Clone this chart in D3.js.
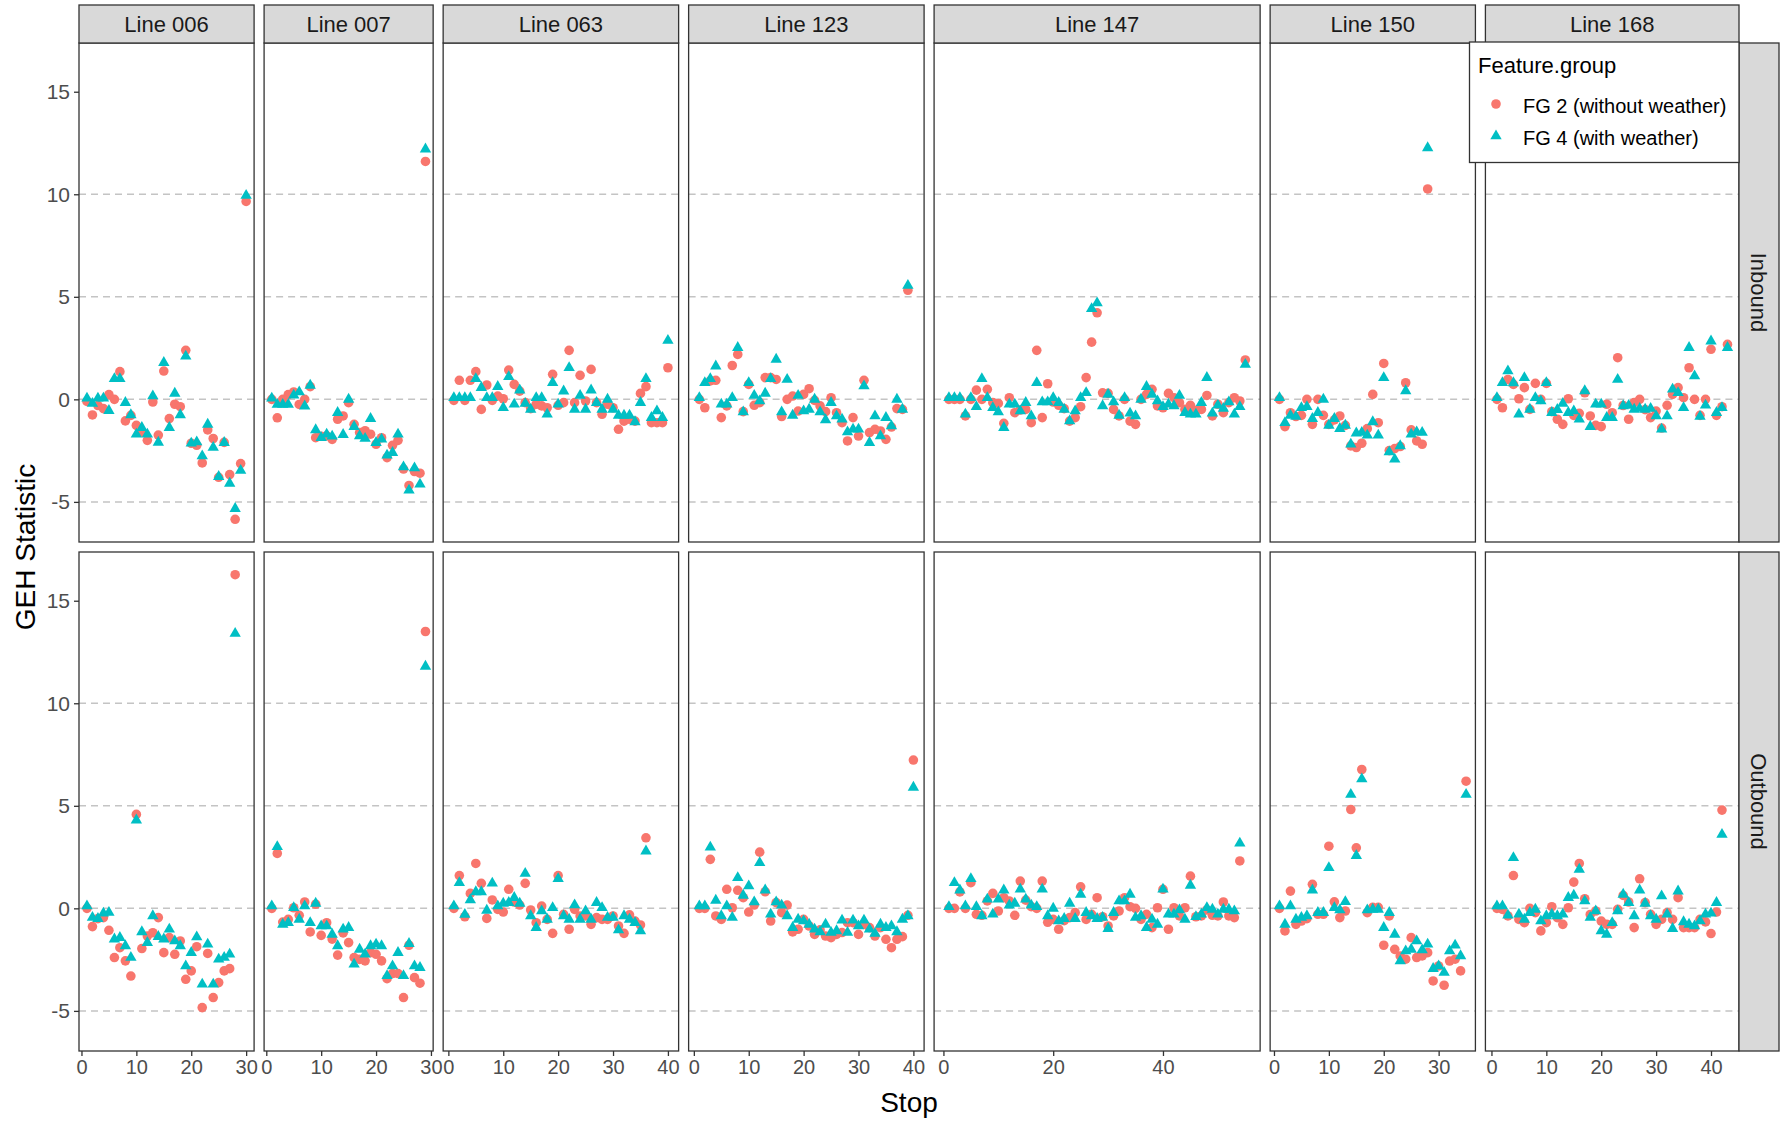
<!DOCTYPE html>
<html>
<head>
<meta charset="utf-8">
<script src="https://cdn.jsdelivr.net/npm/d3@7/dist/d3.min.js"></script>
<style>
  body { margin: 0; background: white; }
  text { font-family: "Liberation Sans", Arial, sans-serif; }
</style>
</head>
<body>
<svg id="chart" width="1782" height="1123"></svg>
<script>
// facet labels
const lineNames = ["Line 006", "Line 007", "Line 063", "Line 123", "Line 147", "Line 150", "Line 168"];
const directions = ["Inbound", "Outbound"];
const groupNames = ["FG 2 (without weather)", "FG 4 (with weather)"];
const yTicks = [-5, 0, 5, 10, 15];
const refLines = [-5, 0, 5, 10];

// GEH per stop (stop = index + 1), Inbound
const l006_in_fg2 = [-0.1, -0.76, -0.3, -0.45, 0.23, 0, 1.35, -1.05, -0.78, -1.27, -1.6, -2.0, -0.13, -1.74, 1.38, -0.94, -0.24, -0.36, 2.39, -2.14, -2.24, -3.1, -1.49, -1.91, -3.8, -2.1, -3.67, -5.85, -3.13, 9.65];
const l006_in_fg4 = [0.05, -0.2, 0.05, 0.05, -0.55, 1.0, 1.0, -0.16, -0.76, -1.7, -1.38, -1.7, 0.16, -2.1, 1.79, -1.38, 0.29, -0.76, 2.1, -2.14, -2.08, -2.76, -1.22, -2.35, -3.77, -2.11, -4.1, -5.33, -3.47, 9.94];
const l007_in_fg2 = [0, -0.9, 0, 0.23, 0.36, -0.25, 0, 0.62, -1.87, -1.8, -1.78, -1.95, -0.97, -0.81, -0.16, -1.22, -1.62, -1.53, -1.7, -2.19, -1.87, -2.84, -2.24, -2.0, -3.4, -4.2, -3.52, -3.6, 11.6];
const l007_in_fg4 = [0.05, -0.25, -0.25, -0.25, 0.2, 0.36, -0.33, 0.68, -1.49, -1.87, -1.7, -1.8, -0.65, -1.72, 0, -1.33, -1.78, -1.91, -0.94, -2.11, -1.95, -2.73, -2.6, -1.7, -3.3, -4.43, -3.35, -4.14, 12.2];
const l063_in_fg2 = [-0.05, 0.93, -0.05, 0.93, 1.35, -0.49, 0.7, -0.05, 0.16, 0.03, 1.43, 0.73, 0.4, -0.16, -0.45, -0.24, -0.32, -0.41, 1.22, -0.29, -0.16, 2.39, -0.16, 1.17, -0.08, 1.46, -0.16, -0.73, -0.24, -0.41, -1.46, -1.06, -0.97, -1.06, 0.29, 0.62, -1.14, -1.14, -1.14, 1.54];
const l063_in_fg4 = [0.08, 0.08, 0.08, 0.08, 1.0, 0.57, 0.08, 0.08, 0.62, -0.41, 1.1, -0.24, 0.45, -0.2, -0.49, 0.08, 0.08, -0.73, 0.81, -0.24, 0.4, 1.54, -0.49, 0.19, -0.49, 0.45, -0.16, -0.49, 0, -0.49, -0.78, -0.78, -0.78, -1.1, -0.16, 1.0, -0.89, -0.57, -0.89, 2.87];
const l123_in_fg2 = [0, -0.41, 0.9, 0.93, -0.89, -0.32, 1.65, 2.19, -0.6, 0.73, -0.29, -0.16, 1.06, 1.06, 0.97, -0.84, 0, 0.16, -0.57, 0.24, 0.52, -0.05, -0.32, -0.6, 0.08, -0.65, -1.14, -2.03, -0.89, -1.79, 0.93, -1.62, -1.46, -1.54, -1.95, -1.35, -0.45, -0.49, 5.32];
const l123_in_fg4 = [0.08, 0.81, 1.0, 1.62, -0.24, -0.24, 0.08, 2.52, -0.62, 0.81, 0.19, -0.08, 0.29, 1.0, 1.95, -0.62, 0.97, -0.78, 0.19, -0.57, -0.49, 0, -0.62, -1.0, -0.16, -0.81, -0.97, -1.59, -1.46, -1.46, 0.65, -2.11, -0.81, -1.79, -0.89, -1.3, 0, -0.49, 5.55];
const l147_in_fg2 = [0, 0, 0, -0.81, 0, 0.45, 0, 0.49, -0.16, -0.2, -1.17, 0.08, -0.65, -0.52, -0.49, -1.14, 2.39, -0.89, 0.76, -0.13, -0.29, -0.45, -1.06, -0.89, -0.36, 1.06, 2.79, 4.22, 0.32, 0.29, -0.49, -0.81, 0, -1.06, -1.22, 0, 0.24, 0.49, -0.32, -0.41, 0.29, 0.08, -0.16, -0.49, -0.29, -0.55, -0.49, 0.19, -0.81, -0.24, -0.65, -0.16, 0.08, -0.08, 1.92];
const l147_in_fg4 = [0.08, 0.08, 0.08, -0.73, 0.08, -0.36, 1.0, 0.08, -0.41, -0.62, -1.38, -0.24, -0.24, -0.57, -0.16, -0.81, 0.81, -0.13, -0.13, 0.08, -0.16, -0.49, -1.06, -0.57, 0.08, 0.32, 4.42, 4.7, -0.32, 0.24, -0.13, -0.78, 0.08, -0.68, -0.81, 0, 0.62, 0.24, -0.08, -0.36, -0.24, -0.32, 0.19, -0.65, -0.73, -0.73, -0.16, 1.06, -0.68, -0.29, -0.45, -0.13, -0.73, -0.36, 1.7];
const l150_in_fg2 = [0, -1.33, -0.65, -0.84, -0.78, 0, -1.22, 0, -0.78, -1.22, -1.0, -0.81, -1.27, -2.27, -2.35, -2.14, -1.43, 0.24, -1.14, 1.75, -2.5, -2.4, -2.3, 0.81, -1.49, -2.03, -2.19, 10.26];
const l150_in_fg4 = [0.08, -1.14, -0.78, -0.84, -0.41, -0.36, -0.94, -0.65, 0, -1.27, -0.94, -1.43, -1.27, -2.19, -1.65, -1.62, -1.75, -1.1, -1.75, 1.05, -2.57, -2.92, -2.27, 0.41, -1.7, -1.59, -1.62, 12.26];
const l168_in_fg2 = [0, -0.41, 0.97, 0.73, 0.03, 0.57, -0.49, 0.78, 0, 0.78, -0.6, -0.97, -1.22, 0.03, -0.78, -0.68, 0.32, -0.81, -1.27, -1.33, -0.24, -0.65, 2.03, -0.3, -0.97, -0.16, 0, -0.5, -0.89, -0.57, -1.4, -0.29, 0.24, 0.57, 0.08, 1.54, 0, -0.78, 0, 2.44, -0.78, -0.36, 2.68];
const l168_in_fg4 = [0.08, 0.81, 1.38, 0.8, -0.73, 1.05, -0.49, 0.08, -0.08, 0.81, -0.65, -0.5, -0.2, -0.65, -0.57, -0.97, 0.41, -1.33, -0.24, -0.24, -0.89, -0.89, 0.97, -0.32, -0.3, -0.49, -0.45, -0.49, -0.45, -0.81, -1.46, -0.81, 0.49, 0.32, -0.41, 2.52, 1.14, -0.84, -0.29, 2.84, -0.65, -0.41, 2.52];

// Outbound
const l006_out_fg2 = [0, -0.89, -0.5, -0.45, -1.07, -2.4, -1.92, -2.56, -3.3, 4.58, -1.96, -1.35, -1.19, -0.45, -2.16, -1.43, -2.24, -1.59, -3.46, -3.05, -1.87, -4.84, -2.2, -4.35, -3.62, -3.05, -2.94, 16.27];
const l006_out_fg4 = [0.11, -0.45, -0.5, -0.24, -0.2, -1.5, -1.43, -1.83, -2.4, 4.3, -1.15, -1.67, -0.37, -1.38, -1.5, -1.02, -1.59, -1.83, -2.81, -2.16, -1.4, -3.7, -1.75, -3.7, -2.48, -2.4, -2.24, 13.4];
const l007_out_fg2 = [0, 2.68, -0.67, -0.54, 0.03, -0.34, 0.31, -1.15, 0.2, -1.32, -0.7, -1.5, -2.28, -1.2, -1.67, -2.4, -2.49, -2.56, -2.16, -2.24, -2.56, -3.43, -3.18, -3.18, -4.35, -1.8, -3.38, -3.65, 13.5];
const l007_out_fg4 = [0.11, 3.0, -0.78, -0.7, 0.03, -0.54, 0.11, -0.7, 0.24, -0.86, -0.86, -1.27, -1.83, -1.02, -0.94, -2.73, -2.0, -2.24, -1.83, -1.75, -1.83, -3.29, -2.81, -2.16, -3.29, -1.72, -2.81, -2.89, 11.8];
const l063_out_fg2 = [0, 1.6, -0.41, 0.73, 2.19, 1.22, -0.49, 0.41, -0.05, -0.18, 0.93, 0.31, 0.16, 1.22, -0.08, -0.7, 0.11, -0.54, -1.22, 1.6, -0.29, -1.02, -0.05, -0.37, -0.37, -0.78, -0.45, -0.54, -0.54, -0.37, -0.86, -1.22, -0.32, -0.62, -0.81, 3.44];
const l063_out_fg4 = [0.11, 1.25, -0.3, 0.41, 0.8, 0.8, -0.1, 1.22, 0.11, 0.24, 0.28, 0.52, 0.24, 1.7, -0.37, -0.94, -0.13, -0.54, 0.03, 1.44, -0.37, -0.54, 0.16, -0.54, -0.13, -0.54, 0.28, 0.03, -0.45, -0.45, -1.06, -0.37, -0.54, -0.7, -1.1, 2.79];
const l123_out_fg2 = [0, 0, 2.39, -0.37, -0.54, 0.93, 0.03, 0.88, 0.52, -0.18, 0.16, 2.74, 0.81, -0.62, 0.28, -0.21, 0.16, -1.15, -1.02, -0.54, -0.86, -1.27, -1.05, -1.35, -1.43, -1.27, -1.18, -0.7, -0.7, -1.27, -0.78, -0.94, -1.35, -0.94, -1.51, -1.92, -1.51, -1.38, -0.34, 7.23];
const l123_out_fg4 = [0.11, 0.11, 2.98, 0.39, -0.37, 0.11, -0.45, 1.49, 0.63, 1.09, 0.31, 2.22, 0.89, -0.29, 0.31, 0.15, -0.37, -0.94, -0.54, -0.62, -0.78, -1.02, -1.15, -0.78, -1.18, -1.1, -0.58, -1.18, -0.58, -0.86, -0.58, -1.02, -1.23, -0.78, -0.94, -0.86, -1.15, -0.54, -0.37, 5.9];
const l147_out_fg2 = [0, 0, 0.8, 0, 1.25, -0.29, -0.34, 0.36, 0.73, -0.13, 0.52, 0.36, -0.34, 1.33, 0.4, 0.08, 0, 1.33, -0.68, -0.54, -1.02, -0.6, -0.45, -0.21, 1.05, -0.54, -0.29, 0.52, -0.41, -0.86, -0.37, -0.13, 0.52, 0.08, 0, -0.54, -0.29, -0.94, 0.03, 0.93, -1.02, 0.03, -0.37, 0.03, 1.57, -0.41, -0.37, -0.08, -0.34, -0.37, 0.31, -0.37, -0.45, 2.31];
const l147_out_fg4 = [0.08, 1.25, 0.89, 0.11, 1.44, 0.08, -0.37, 0.44, -0.29, 0.44, 0.89, 0.15, 0.24, 0.93, 0.44, 0.15, 0.08, 0.93, -0.37, 0, -0.62, -0.5, 0.24, -0.5, 0.68, -0.21, -0.37, -0.5, -0.45, -0.99, -0.21, 0.36, 0.36, 0.68, -0.45, -0.37, -0.94, -0.54, -0.78, 0.93, -0.29, -0.29, -0.08, -0.54, 1.12, -0.41, -0.29, 0.03, -0.05, -0.29, -0.05, -0.05, -0.13, 3.17];
const l150_out_fg2 = [0, -1.1, 0.84, -0.78, -0.62, -0.5, 1.17, -0.29, -0.29, 3.03, 0.32, -0.45, -0.13, 4.82, 2.95, 6.77, -0.21, 0.05, 0.05, -1.8, -0.37, -2.0, -2.32, -2.48, -1.43, -2.4, -2.32, -2.16, -3.54, -2.81, -3.75, -2.57, -2.48, -3.05, 6.2];
const l150_out_fg4 = [0.11, -0.78, 0.11, -0.54, -0.45, -0.37, 0.89, -0.21, -0.21, 1.98, 0.03, -0.08, 0.32, 5.55, 2.57, 6.31, -0.08, -0.05, -0.05, -0.94, -0.21, -1.27, -2.57, -2.08, -2.0, -1.59, -2.03, -1.75, -2.94, -2.81, -3.13, -2.08, -1.8, -2.32, 5.55];
const l168_out_fg2 = [0, -0.05, -0.37, 1.6, -0.54, -0.7, 0, -0.21, -1.1, -0.7, 0.08, -0.45, -0.78, 0.03, 1.28, 2.19, 0.47, -0.3, -0.13, -0.62, -0.78, -0.78, -0.05, 0.63, 0.31, -0.94, 1.44, 0.28, -0.29, -0.78, -0.54, -0.21, -0.54, 0.52, -0.94, -0.94, -0.94, -0.54, -0.66, -1.23, -0.18, 4.79];
const l168_out_fg4 = [0.11, 0.11, -0.34, 2.47, -0.29, -0.54, -0.21, -0.05, -0.62, -0.37, -0.29, -0.37, -0.29, 0.52, 0.63, 1.9, 0.36, -0.45, -0.13, -1.1, -1.27, -0.7, -0.13, 0.68, 0.28, -0.37, 0.89, 0.24, -0.37, -0.54, 0.6, -0.29, -0.99, 0.84, -0.66, -0.78, -0.86, -0.62, -0.29, -0.24, 0.28, 3.6];

const seriesByLine = {
  "Line 006": { Inbound: [l006_in_fg2, l006_in_fg4], Outbound: [l006_out_fg2, l006_out_fg4] },
  "Line 007": { Inbound: [l007_in_fg2, l007_in_fg4], Outbound: [l007_out_fg2, l007_out_fg4] },
  "Line 063": { Inbound: [l063_in_fg2, l063_in_fg4], Outbound: [l063_out_fg2, l063_out_fg4] },
  "Line 123": { Inbound: [l123_in_fg2, l123_in_fg4], Outbound: [l123_out_fg2, l123_out_fg4] },
  "Line 147": { Inbound: [l147_in_fg2, l147_in_fg4], Outbound: [l147_out_fg2, l147_out_fg4] },
  "Line 150": { Inbound: [l150_in_fg2, l150_in_fg4], Outbound: [l150_out_fg2, l150_out_fg4] },
  "Line 168": { Inbound: [l168_in_fg2, l168_in_fg4], Outbound: [l168_out_fg2, l168_out_fg4] },
};

const colors = ["#F8766D", "#00BFC4"];

// flatten into rows
let rows = [];
lineNames.forEach((ln) => {
  directions.forEach((dir) => {
    seriesByLine[ln][dir].forEach((vals, gi) => {
      vals.forEach((v, i) => {
        rows.push({ line: ln, dir: dir, group: gi, stop: i + 1, geh: v });
      });
    });
  });
});

const svg = d3.select("#chart");
const panelLeft = 79;
const panelRight = 1739;
const gap = 10;
const rowTop = [43, 552];
const rowH = 499;
const stripH = 38;
const stripW = 40;
const plainFmt = (d) => String(d); // plain hyphen minus like R

// y scale shared (ggplot 5% expansion)
const yExt = d3.extent(rows, (d) => d.geh);
const yPad = (yExt[1] - yExt[0]) * 0.05;
const yDomain = [yExt[0] - yPad, yExt[1] + yPad];

// free x per column, widths proportional to range
var cols = lineNames.map((ln) => {
  var ext = d3.extent(rows.filter((d) => d.line == ln), (d) => d.stop);
  var pad = (ext[1] - ext[0]) * 0.05;
  return { line: ln, domain: [ext[0] - pad, ext[1] + pad] };
});
const totalUnits = d3.sum(cols, (c) => c.domain[1] - c.domain[0]);
const pxPerUnit = (panelRight - panelLeft - gap * (cols.length - 1)) / totalUnits;
var cx = panelLeft;
cols.forEach((c) => {
  c.x0 = cx;
  c.w = (c.domain[1] - c.domain[0]) * pxPerUnit;
  c.scale = d3.scaleLinear().domain(c.domain).range([c.x0, c.x0 + c.w]);
  cx += c.w + gap;
});

const triangle = d3.symbol().type(d3.symbolTriangle).size(56);
const dotR = 4.8;

directions.forEach((dir, ri) => {
  var y = d3.scaleLinear().domain(yDomain).range([rowTop[ri] + rowH, rowTop[ri]]);

  cols.forEach((c, ci) => {
    var g = svg.append("g");
    g.append("rect")
      .attr("x", c.x0).attr("y", rowTop[ri])
      .attr("width", c.w).attr("height", rowH)
      .attr("fill", "white");

    g.selectAll(".ref")
      .data(refLines)
      .enter()
      .append("line")
      .attr("x1", c.x0).attr("x2", c.x0 + c.w)
      .attr("y1", (d) => y(d)).attr("y2", (d) => y(d))
      .attr("stroke", "#c4c4c4")
      .attr("stroke-width", 1.5)
      .attr("stroke-dasharray", "7,5");

    var pts = rows.filter((d) => d.line == c.line && d.dir == dir);
    g.selectAll(".fg2")
      .data(pts.filter((d) => d.group == 0))
      .enter()
      .append("circle")
      .attr("cx", (d) => c.scale(d.stop))
      .attr("cy", (d) => y(d.geh))
      .attr("r", dotR)
      .attr("fill", colors[0]);
    g.selectAll(".fg4")
      .data(pts.filter((d) => d.group == 1))
      .enter()
      .append("path")
      .attr("d", triangle)
      .attr("transform", (d) => `translate(${c.scale(d.stop)},${y(d.geh)})`)
      .attr("fill", colors[1]);

    g.append("rect")
      .attr("x", c.x0).attr("y", rowTop[ri])
      .attr("width", c.w).attr("height", rowH)
      .attr("fill", "none")
      .attr("stroke", "#333333")
      .attr("stroke-width", 1.3);

    // column strips on top row
    if (ri == 0) {
      g.append("rect")
        .attr("x", c.x0).attr("y", rowTop[0] - stripH)
        .attr("width", c.w).attr("height", stripH)
        .attr("fill", "#d9d9d9")
        .attr("stroke", "#333333")
        .attr("stroke-width", 1.3);
      g.append("text")
        .attr("x", c.x0 + c.w / 2)
        .attr("y", rowTop[0] - stripH / 2)
        .attr("dy", "0.36em")
        .attr("text-anchor", "middle")
        .style("font-size", "22px")
        .attr("fill", "#1a1a1a")
        .text(c.line);
    }

    // x axis on bottom row
    if (ri == 1) {
      var xAxis = d3.axisBottom(c.scale).ticks(4).tickFormat(plainFmt).tickSize(5).tickPadding(4).tickSizeOuter(0);
      var ax = svg.append("g")
        .attr("transform", `translate(0, ${rowTop[1] + rowH})`)
        .call(xAxis);
      ax.select(".domain").remove();
      ax.selectAll(".tick line").attr("stroke", "#333333").attr("stroke-width", 1.3);
      ax.selectAll(".tick text")
        .attr("fill", "#4d4d4d")
        .style("font-size", "20px")
        .style("font-family", '"Liberation Sans", Arial, sans-serif');
    }
  });

  // row strip on the right
  svg.append("rect")
    .attr("x", panelRight).attr("y", rowTop[ri])
    .attr("width", stripW).attr("height", rowH)
    .attr("fill", "#d9d9d9")
    .attr("stroke", "#333333")
    .attr("stroke-width", 1.3);
  svg.append("text")
    .attr("transform", `translate(${panelRight + stripW / 2}, ${rowTop[ri] + rowH / 2}) rotate(90)`)
    .attr("dy", "0.36em")
    .attr("text-anchor", "middle")
    .style("font-size", "22px")
    .attr("fill", "#1a1a1a")
    .text(dir);

  // y axis
  var yAxis = d3.axisLeft(y).tickValues(yTicks).tickFormat(plainFmt).tickSize(5).tickPadding(4).tickSizeOuter(0);
  var ay = svg.append("g")
    .attr("transform", `translate(${panelLeft}, 0)`)
    .call(yAxis);
  ay.select(".domain").remove();
  ay.selectAll(".tick line").attr("stroke", "#333333").attr("stroke-width", 1.3);
  ay.selectAll(".tick text")
    .attr("fill", "#4d4d4d")
    .style("font-size", "21px")
    .style("font-family", '"Liberation Sans", Arial, sans-serif');
});

// axis titles
svg.append("text")
  .attr("x", (panelLeft + panelRight) / 2)
  .attr("y", 1102)
  .attr("dy", "0.36em")
  .attr("text-anchor", "middle")
  .style("font-size", "28px")
  .attr("fill", "black")
  .text("Stop");

svg.append("text")
  .attr("transform", `translate(25, ${(rowTop[0] + rowTop[1] + rowH) / 2}) rotate(-90)`)
  .attr("dy", "0.36em")
  .attr("text-anchor", "middle")
  .style("font-size", "28px")
  .attr("fill", "black")
  .text("GEH Statistic");

// legend inside top right
var legend = svg.append("g");
legend.append("rect")
  .attr("x", 1469.5).attr("y", 42)
  .attr("width", panelRight - 1469.5).attr("height", 120.5)
  .attr("fill", "white")
  .attr("stroke", "#333333")
  .attr("stroke-width", 1.3);
legend.append("text")
  .attr("x", 1478).attr("y", 73)
  .style("font-size", "22px")
  .attr("fill", "black")
  .text("Feature.group");
legend.append("circle")
  .attr("cx", 1496).attr("cy", 104).attr("r", dotR)
  .attr("fill", colors[0]);
legend.append("path")
  .attr("d", triangle)
  .attr("transform", "translate(1496, 136)")
  .attr("fill", colors[1]);
groupNames.forEach((name, i) => {
  legend.append("text")
    .attr("x", 1523).attr("y", 105.5 + i * 32)
    .attr("dy", "0.36em")
    .style("font-size", "20px")
    .attr("fill", "black")
    .text(name);
});
</script>
</body>
</html>
